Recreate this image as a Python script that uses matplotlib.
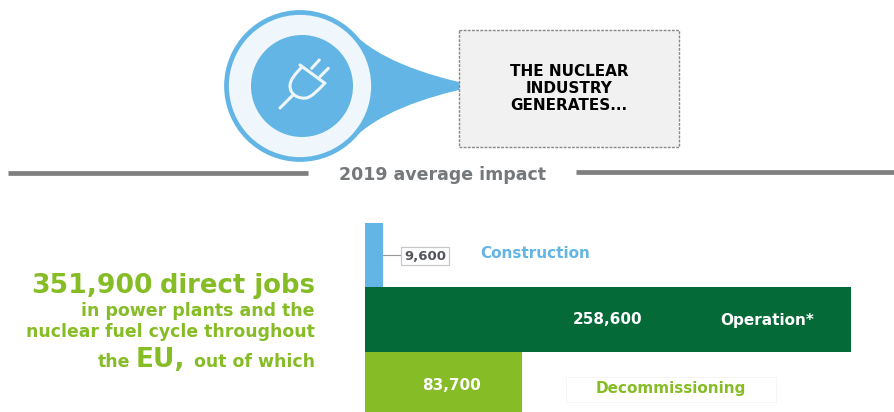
import matplotlib
matplotlib.use('Agg')
import matplotlib.pyplot as plt
from matplotlib.patches import Circle, PathPatch, Rectangle
from matplotlib.path import Path

categories = ['Construction', 'Operation*', 'Decommissioning']
jobs = [9600, 258600, 83700]
total_jobs = 351900

BLUE = '#62b5e5'
DARK = '#046a38'
GREEN = '#86bc25'
GREY = '#75787b'

W, H = 895, 412
plt.rcParams['font.family'] = 'DejaVu Sans'
plt.rcParams['font.weight'] = 'bold'
fig = plt.figure(figsize=(W / 100, H / 100), dpi=100)

# bars
ax = fig.add_axes([365 / W, 0, 486 / W, 189.5 / H])
ax.barh([0, 1, 2], jobs, height=1, color=[BLUE, DARK, GREEN])
ax.set_xlim(0, jobs[1])
ax.set_ylim(2.42, -0.5)
ax.axis('off')

# everything else in pixel coordinates of the picture
bg = fig.add_axes([0, 0, 1, 1], zorder=3)
bg.set_xlim(0, W)
bg.set_ylim(H, 0)
bg.axis('off')
bg.patch.set_alpha(0)

# pin
tail = Path([(353, 33), (378, 58), (420, 74), (476, 86),
             (420, 98), (378, 114), (353, 139), (330, 86), (353, 33)],
            [Path.MOVETO, Path.CURVE4, Path.CURVE4, Path.CURVE4,
             Path.CURVE4, Path.CURVE4, Path.CURVE4, Path.LINETO, Path.CLOSEPOLY])
bg.add_patch(PathPatch(tail, fc=BLUE, ec='none'))
bg.add_patch(Circle((300, 86), 73.5, fc='#eff7fc', ec=BLUE, lw=3.4))
bg.add_patch(Circle((302, 86), 51, fc=BLUE, ec='none'))

# plug icon
plug = dict(color='#eff7fc', lw=2.2, solid_capstyle='round')
bg.plot([311.7, 319.3], [68.3, 60], **plug)
bg.plot([320, 328.3], [76.7, 68.3], **plug)
bg.plot([300, 325], [65, 83.3], **plug)
bg.plot([280, 293], [108, 95], **plug)
body = Path([(302, 67), (295, 74), (290, 80), (290, 86),
             (290, 95), (299, 99), (306, 98),
             (312, 97), (318, 90), (324, 84)],
            [Path.MOVETO] + [Path.CURVE4] * 9)
bg.add_patch(PathPatch(body, fc='none', ec='#eff7fc', lw=2.2))

# box
bg.add_patch(Rectangle((459, 30), 220, 117, fc='#f1f1f1', ec='#888888', lw=1, ls=(0, (2, 1))))
bg.text(569, 88.5, 'THE NUCLEAR\nINDUSTRY\nGENERATES...', ha='center', va='center',
        fontsize=11, color='black', linespacing=1.2)

# heading
bg.plot([8, 308], [173, 173], color='#7f7f7f', lw=3.4, solid_capstyle='butt')
bg.plot([576, 895], [172, 172], color='#7f7f7f', lw=3.4, solid_capstyle='butt')
bg.text(443, 175, '2019 average impact', ha='center', va='center', fontsize=12.5, color=GREY)

# left text
bg.text(153, 293, f'{total_jobs:,}', ha='right', va='baseline', fontsize=19.2, color=GREEN)
bg.text(315, 293, 'direct jobs', ha='right', va='baseline', fontsize=18.6, color=GREEN)
bg.text(315, 316, 'in power plants and the', ha='right', va='baseline', fontsize=12.5, color=GREEN)
bg.text(315, 337, 'nuclear fuel cycle throughout', ha='right', va='baseline', fontsize=12.4, color=GREEN)
bg.text(315, 367, 'out of which', ha='right', va='baseline', fontsize=12.5, color=GREEN)
bg.text(185, 367, 'EU,', ha='right', va='baseline', fontsize=19, color=GREEN)
bg.text(130, 367, 'the', ha='right', va='baseline', fontsize=12.5, color=GREEN)

# bar labels
bg.plot([383, 401], [255, 255], color='#999999', lw=0.8)
bg.text(425, 256, f'{jobs[0]:,}', ha='center', va='center', fontsize=9.5, color='#53565a',
        bbox=dict(boxstyle='square,pad=0.2', fc='white', ec='#c8c8c8', lw=0.9))
bg.text(535, 253, categories[0], ha='center', va='center', fontsize=11, color=BLUE)
bg.text(608, 320, f'{jobs[1]:,}', ha='center', va='center', fontsize=11, color='white')
bg.text(767, 321, categories[1], ha='center', va='center', fontsize=11, color='white')
bg.text(452, 385, f'{jobs[2]:,}', ha='center', va='center', fontsize=11, color='white')
bg.add_patch(Rectangle((566, 377), 210, 25, fc='white', ec='#f6f6f6', lw=0.7))
bg.text(671, 388, categories[2], ha='center', va='center', fontsize=11, color=GREEN)

plt.savefig('out.png', dpi=100)
